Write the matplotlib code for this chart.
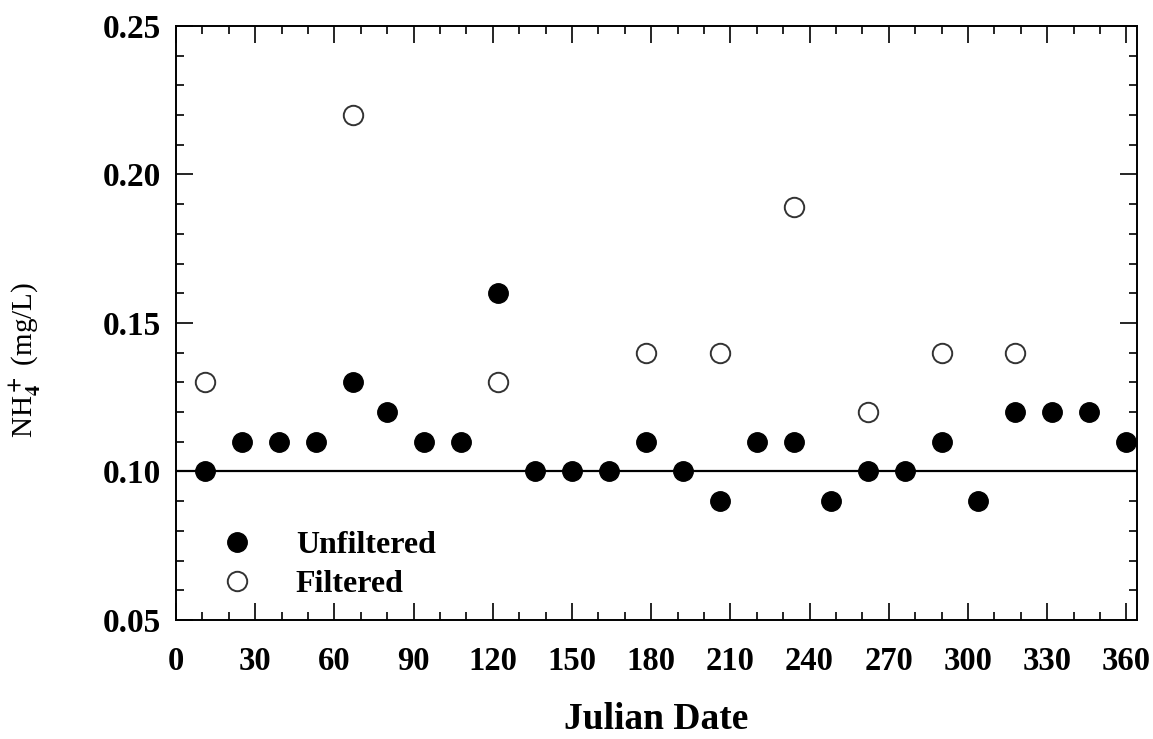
import matplotlib.pyplot as plt
from matplotlib.ticker import MultipleLocator

# sampling days and NH4+ concentrations (mg/L)
unf_day = [11, 25, 39, 53, 67, 80, 94, 108, 122, 136, 150, 164, 178,
           192, 206, 220, 234, 248, 262, 276, 290, 304, 318, 332, 346, 360]
unf_nh4 = [0.10, 0.11, 0.11, 0.11, 0.13, 0.12, 0.11, 0.11, 0.16, 0.10, 0.10, 0.10, 0.11,
           0.10, 0.09, 0.11, 0.11, 0.09, 0.10, 0.10, 0.11, 0.09, 0.12, 0.12, 0.12, 0.11]

filt_day = [11, 67, 122, 178, 206, 234, 262, 290, 318]
filt_nh4 = [0.13, 0.22, 0.13, 0.14, 0.14, 0.189, 0.12, 0.14, 0.14]

ref_level = 0.10

plt.rcParams['font.family'] = ['Liberation Serif', 'DejaVu Serif']
plt.rcParams['font.weight'] = 'bold'
plt.rcParams['mathtext.fontset'] = 'stix'

fig = plt.figure(figsize=(11.53, 7.39), dpi=100)
ax = fig.add_axes([0.1526, 0.161, 0.8334, 0.804])

ax.axhline(ref_level, color='black', lw=1.6, zorder=1)
ax.plot(unf_day, unf_nh4, 'o', ms=14, color='black', label='Unfiltered', zorder=3)
ax.plot(filt_day, filt_nh4, 'o', ms=14, mfc='white', mec='#333333', mew=1.4,
        label='Filtered', zorder=3)

ax.set_xlim(0, 364)
ax.set_ylim(0.05, 0.25)
ax.xaxis.set_major_locator(MultipleLocator(30))
ax.xaxis.set_minor_locator(MultipleLocator(10))
ax.yaxis.set_major_locator(MultipleLocator(0.05))
ax.yaxis.set_minor_locator(MultipleLocator(0.01))
ax.yaxis.set_major_formatter(lambda v, p: f"{v:.2f}")
ax.tick_params(which='both', direction='in', top=True, right=True, width=1.2)
ax.tick_params(which='major', length=12)
ax.tick_params(which='minor', length=6)
ax.tick_params(axis='x', labelsize=23.5, pad=19)
ax.tick_params(axis='y', labelsize=24, pad=11)
for s in ax.spines.values():
    s.set_linewidth(1.4)

ax.set_xlabel('Julian Date', fontsize=27, fontweight='bold')
ax.xaxis.set_label_coords(0.5, -0.138)
ax.set_ylabel(r'NH$_4^+$ (mg/L)', fontsize=21, fontweight='normal')
ax.yaxis.set_label_coords(-0.138, 0.438)

ax.legend(loc='lower left', frameon=False, fontsize=23, handlelength=2.0,
          handletextpad=0.85, borderaxespad=0, borderpad=0, labelspacing=0.3,
          bbox_to_anchor=(0.030, 0.035))

fig.savefig('out.png', dpi=100)
